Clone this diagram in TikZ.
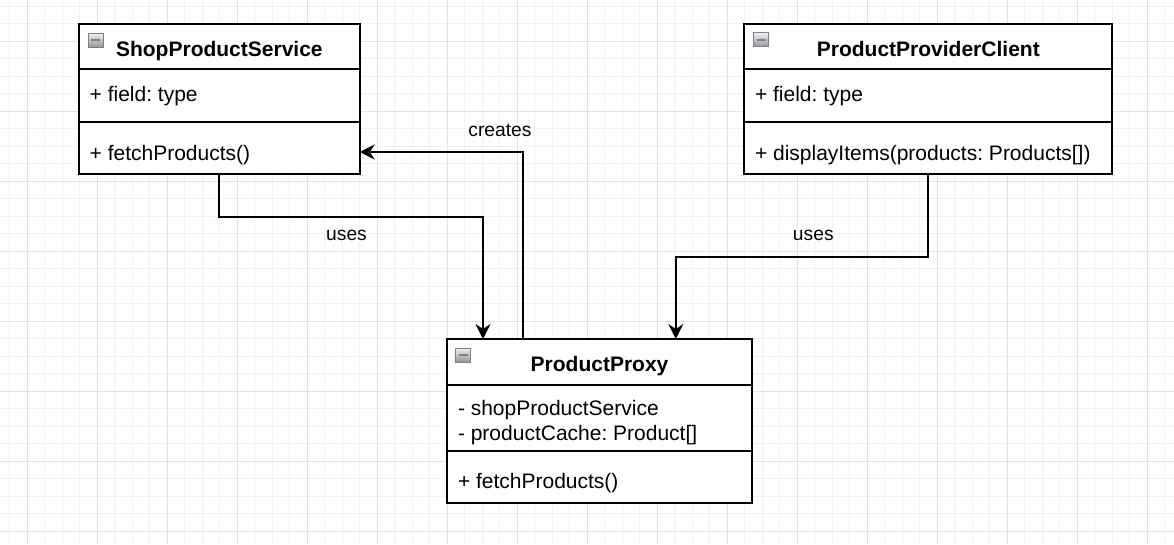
\documentclass[tikz,border=0pt]{standalone}
\usepackage{fontspec}
\setmainfont{Liberation Sans}
\usepackage{tikz}
\usetikzlibrary{arrows.meta, positioning, calc}
\frenchspacing
\definecolor{gridMinorLine}{RGB}{241,241,241}
\definecolor{gridMajorLine}{RGB}{225,225,225}
\definecolor{toggleTop}{RGB}{238,238,240}
\definecolor{toggleBottom}{RGB}{150,150,155}
\definecolor{toggleEdge}{RGB}{125,128,135}
\tikzset{
  gridMinor/.style={draw=gridMinorLine, line width=1pt},
  gridMajor/.style={draw=gridMajorLine, line width=1pt},
  classHead/.style={
    draw=black,
    line width=2pt,
    fill=white,
    outer sep=0pt,
    anchor=north west,
    minimum height=45.5pt,
    font=\fontsize{21}{25}\selectfont\bfseries,
    text height=19.5pt,
    text depth=0pt
  },
  classPart/.style={
    draw=black,
    line width=2pt,
    fill=white,
    outer sep=0pt,
    inner sep=0pt
  },
  member/.style={font=\fontsize{21}{25}\selectfont, inner sep=0pt, anchor=base west},
  toggle/.style={
    minimum width=15pt,
    minimum height=14pt,
    inner sep=0pt,
    draw=toggleEdge,
    line width=1pt,
    top color=toggleTop,
    bottom color=toggleBottom,
    path picture={\draw[line width=2pt] ([xshift=3pt]path picture bounding box.west) -- ([xshift=-3pt]path picture bounding box.east);}
  },
  assoc/.style={-{Stealth[length=15pt, width=15pt, inset=5pt]}, line width=2pt, draw=black},
  edgeLabel/.style={font=\fontsize{19.25}{23}\selectfont, fill=white, inner sep=1pt, anchor=base}
}
\begin{document}
\begin{tikzpicture}[x=1pt, y=-1pt]
  \useasboundingbox (0,0) rectangle (1174,544);
  \fill[white] (0,0) rectangle (1174,544);
  \foreach \k in {0,...,66} \draw[gridMinor] ({9.8+17.5*\k},0) -- ({9.8+17.5*\k},544);
  \foreach \k in {0,...,30} \draw[gridMinor] (0,{6+17.5*\k}) -- (1174,{6+17.5*\k});
  \foreach \k in {0,...,16} \draw[gridMajor] ({27.3+70*\k},0) -- ({27.3+70*\k},544);
  \foreach \k in {0,...,7} \draw[gridMajor] (0,{41+70*\k}) -- (1174,{41+70*\k});

  \node[classHead, minimum width=280.7pt] (shopHead) at (79,23.5) {ShopProductService};
  \node[classPart, minimum width=280.7pt, minimum height=53pt, below=0pt of shopHead] (shopAttr) {};
  \node[classPart, minimum width=280.7pt, minimum height=52pt, below=0pt of shopAttr] (shopOps) {};
  \node[toggle] (shopToggle) at ([xshift=16.8pt, yshift=-16.8pt]shopHead.north west) {};
  \node[member] (shopField) at ([xshift=10.5pt, yshift=-32pt]shopAttr.north west) {+ field: type};
  \node[member] (shopFetch) at ([xshift=10.5pt, yshift=-38.7pt]shopOps.north west) {+ fetchProducts()};

  \node[classHead, minimum width=368pt] (clientHead) at (744.3,23.5) {ProductProviderClient};
  \node[classPart, minimum width=368pt, minimum height=53pt, below=0pt of clientHead] (clientAttr) {};
  \node[classPart, minimum width=368pt, minimum height=52pt, below=0pt of clientAttr] (clientOps) {};
  \node[toggle] (clientToggle) at ([xshift=16.7pt, yshift=-16.3pt]clientHead.north west) {};
  \node[member] (clientField) at ([xshift=10.5pt, yshift=-32pt]clientAttr.north west) {+ field: type};
  \node[member] (clientDisplay) at ([xshift=10.5pt, yshift=-38.7pt]clientOps.north west) {+ displayItems(products: Products[])};

  \node[classHead, minimum width=304.5pt] (proxyHead) at (447.3,339) {ProductProxy};
  \node[classPart, minimum width=304.5pt, minimum height=66.5pt, below=0pt of proxyHead] (proxyAttr) {};
  \node[classPart, minimum width=304.5pt, minimum height=52pt, below=0pt of proxyAttr] (proxyOps) {};
  \node[toggle] (proxyToggle) at ([xshift=15.7pt, yshift=-16pt]proxyHead.north west) {};
  \node[member] (proxyService) at ([xshift=10.5pt, yshift=-30.5pt]proxyAttr.north west) {- shopProductService};
  \node[member] (proxyCache) at ([xshift=10.5pt, yshift=-56.2pt]proxyAttr.north west) {- productCache: Product[]};
  \node[member] (proxyFetch) at ([xshift=10.5pt, yshift=-37.3pt]proxyOps.north west) {+ fetchProducts()};

  \draw[assoc] (shopOps.south) -- ++(0,43) -| ([xshift=35.7pt]proxyHead.north west);
  \draw[assoc] ([xshift=76pt]proxyHead.north west) |- ([yshift=-4pt]shopOps.east);
  \draw[assoc] (clientOps.south) -- ++(0,82.7) -| ([xshift=228.5pt]proxyHead.north west);

  \node[edgeLabel] (shopUses) at (346.5,240.7) {uses};
  \node[edgeLabel] (proxyCreates) at (500,136) {creates};
  \node[edgeLabel] (clientUses) at (813.3,240.7) {uses};
\end{tikzpicture}
\end{document}
